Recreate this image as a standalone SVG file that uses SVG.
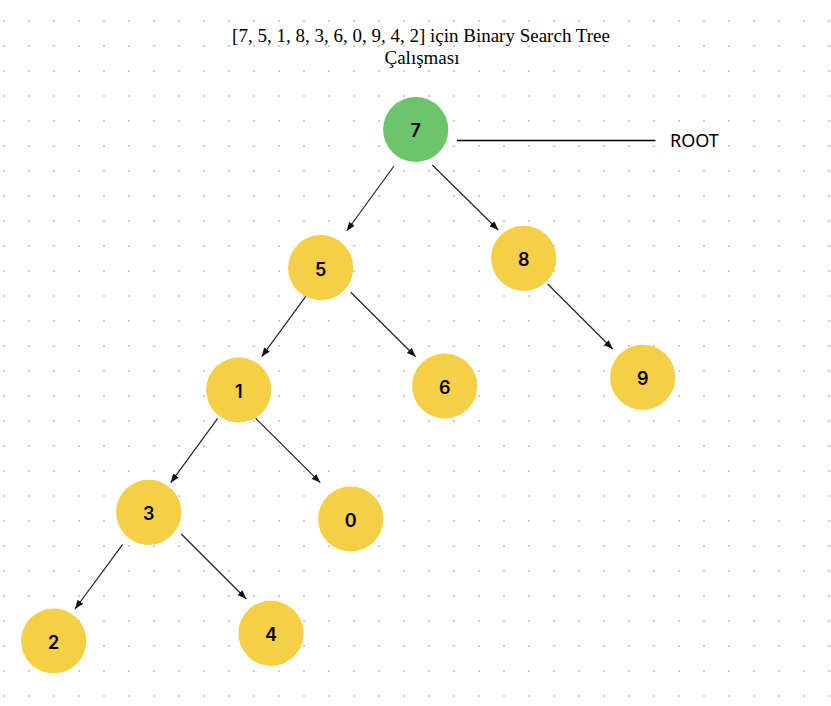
<svg xmlns="http://www.w3.org/2000/svg" width="831" height="706" viewBox="0 0 831 706">
<style>
.title{font-family:"Liberation Serif","Times New Roman",serif;font-size:19px;fill:#000;text-anchor:middle}
.node circle{fill:#F5CF45}
.node.root circle{fill:#6CC46B}
.node text{font-family:"Inter","Noto Sans",sans-serif;font-size:18px;font-weight:600;fill:#000;text-anchor:middle}
.edge{stroke:#222;stroke-width:1.2;fill:none;marker-end:url(#arr)}
.label{font-family:"Noto Sans","Open Sans",sans-serif;font-size:18px;fill:#000}
</style>
<defs>
<pattern id="dots" x="0" y="0" width="25" height="25" patternUnits="userSpaceOnUse">
<rect x="3" y="20" width="2" height="2" fill="#cfcfcf"/>
</pattern>
<marker id="arr" markerUnits="userSpaceOnUse" markerWidth="9" markerHeight="7" refX="9" refY="3.5" orient="auto">
<path d="M0,0 L9,3.5 L0,7 z" fill="#111"/>
</marker>
</defs>
<rect width="831" height="706" fill="#fff"/>
<rect width="831" height="706" fill="url(#dots)"/>
<g id="title">
<text class="title" x="421" y="42">[7, 5, 1, 8, 3, 6, 0, 9, 4, 2] için Binary Search Tree</text>
<text class="title" x="422" y="64">Çalışması</text>
</g>
<g id="connectors">
<line class="edge" x1="394" y1="166" x2="346.7" y2="231"/>
<line class="edge" x1="432.3" y1="165" x2="498.3" y2="230"/>
<line class="edge" x1="308.7" y1="292.3" x2="261.7" y2="356.7"/>
<line class="edge" x1="350.7" y1="292.3" x2="415.7" y2="356.7"/>
<line class="edge" x1="547.7" y1="284" x2="612.7" y2="349"/>
<line class="edge" x1="217.7" y1="418.3" x2="170.7" y2="482.7"/>
<line class="edge" x1="255.7" y1="418.3" x2="320.3" y2="482.7"/>
<line class="edge" x1="122.7" y1="544.3" x2="75" y2="609"/>
<line class="edge" x1="181.3" y1="534" x2="246.3" y2="599"/>
<line x1="457" y1="140.5" x2="655.5" y2="140.5" stroke="#000" stroke-width="1.5"/>
</g>
<g id="node-7" class="node root"><circle cx="415.7" cy="129.5" r="32.6"/><text x="415.7" y="137.3">7</text></g>
<g id="node-5" class="node"><circle cx="320.7" cy="267.7" r="32.6"/><text x="320.7" y="275.5">5</text></g>
<g id="node-8" class="node"><circle cx="523.7" cy="258.3" r="32.6"/><text x="523.7" y="266.1">8</text></g>
<g id="node-9" class="node"><circle cx="642.7" cy="377.3" r="32.6"/><text x="642.7" y="385.1">9</text></g>
<g id="node-1" class="node"><circle cx="238.7" cy="390" r="32.6"/><text x="238.7" y="397.8">1</text></g>
<g id="node-6" class="node"><circle cx="444.7" cy="386" r="32.6"/><text x="444.7" y="393.8">6</text></g>
<g id="node-3" class="node"><circle cx="148.7" cy="512.3" r="32.6"/><text x="148.7" y="520.1">3</text></g>
<g id="node-0" class="node"><circle cx="350.7" cy="519" r="32.6"/><text x="350.7" y="526.8">0</text></g>
<g id="node-2" class="node"><circle cx="53.7" cy="641" r="32.6"/><text x="53.7" y="648.8">2</text></g>
<g id="node-4" class="node"><circle cx="271" cy="633.3" r="32.6"/><text x="271" y="641.1">4</text></g>
<g id="root-label"><text class="label" x="670" y="146.7">ROOT</text></g>
</svg>
